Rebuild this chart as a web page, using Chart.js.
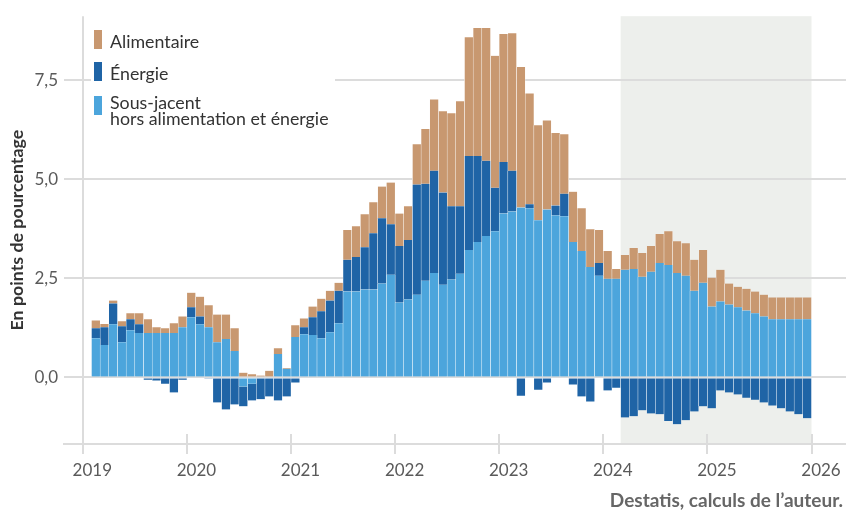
<!DOCTYPE html>
<html lang="fr">
<head>
<meta charset="utf-8">
<title>Inflation – contributions</title>
<script src="https://cdn.jsdelivr.net/npm/chart.js@4.4.1/dist/chart.umd.min.js"></script>
<style>
  html,body{margin:0;padding:0;background:#fff;}
  #wrap{width:846px;height:511px;}
</style>
</head>
<body>
<div id="wrap"><canvas id="chart" width="846" height="511"></canvas></div>
<script>
/* ======== DATA (février 2019 – décembre 2025, mensuel) ======== */
const START_YEAR = 2019, START_MONTH = 2;

const underlying = [
  0.99, 0.82, 1.34, 0.89, 1.19, 1.12, 1.12, 1.12, 1.12, 1.12, 1.27,           // 2019
  1.52, 1.34, 1.27, 0.89, 0.97, 0.67, -0.23, -0.16, 0, 0, 0.59, 0.22,         // 2020
  1.02, 1.09, 1.07, 0.99, 1.14, 1.37, 2.17, 2.17, 2.22, 2.22, 2.37, 2.59,     // 2021
  1.89, 1.97, 2.09, 2.44, 2.64, 2.34, 2.47, 2.62, 3.22, 3.42, 3.57, 3.69,     // 2022
  4.14, 4.19, 4.29, 4.27, 3.97, 4.24, 4.09, 4.07, 3.42, 3.19, 2.79, 2.57,     // 2023
  2.49, 2.49, 2.72, 2.74, 2.54, 2.67, 2.89, 2.84, 2.64, 2.57, 2.19, 2.39,     // 2024
  1.79, 1.92, 1.84, 1.77, 1.69, 1.62, 1.54, 1.47, 1.47, 1.47, 1.47, 1.47      // 2025
];
const energy = [
  0.25, 0.45, 0.53, 0.40, 0.28, 0.22, -0.06, -0.08, -0.16, -0.38, -0.06,
  0.25, 0.20, -0.03, -0.63, -0.81, -0.68, -0.50, -0.42, -0.55, -0.48, -0.58, -0.48,
  -0.13, 0.18, 0.45, 0.68, 0.80, 0.82, 0.80, 0.87, 1.07, 1.42, 1.65, 1.28,
  1.43, 1.50, 2.78, 2.45, 2.58, 2.33, 1.85, 1.70, 2.37, 2.17, 1.90, 1.10,
  1.30, 1.03, -0.46, 0.10, -0.31, -0.13, 0.25, 0.57, -0.18, -0.48, -0.61, 0.32,
  -0.33, -0.26, -1.01, -0.98, -0.83, -0.91, -0.93, -1.10, -1.18, -1.08, -0.86, -0.73,
  -0.78, -0.33, -0.38, -0.43, -0.51, -0.56, -0.63, -0.71, -0.78, -0.86, -0.93, -1.03
];
const food = [
  0.20, 0.08, 0.07, 0.13, 0.15, 0.28, 0.35, 0.15, 0.12, 0.25, 0.27,
  0.37, 0.50, 0.55, 0.70, 0.62, 0.57, 0.12, 0.08, 0.05, 0.17, 0.15, 0.02,
  0.30, 0.22, 0.27, 0.32, 0.25, 0.20, 0.75, 0.78, 0.83, 0.78, 0.80, 1.05,
  0.82, 0.85, 1.02, 1.38, 1.80, 2.05, 2.35, 2.65, 3.00, 3.23, 3.35, 3.33,
  3.23, 3.47, 3.55, 2.80, 2.40, 2.25, 1.83, 1.50, 1.27, 1.08, 0.95, 0.83,
  0.70, 0.25, 0.37, 0.53, 0.60, 0.65, 0.73, 0.85, 0.80, 0.82, 0.78, 0.83,
  0.73, 0.80, 0.53, 0.52, 0.55, 0.55, 0.55, 0.55, 0.55, 0.55, 0.55, 0.55
];

const YEAR_TICKS = [2019, 2020, 2021, 2022, 2023, 2024, 2025, 2026];
const Y_TICKS = [0, 2.5, 5, 7.5];
const FORECAST = [2024 + 2/12, 2026];   // zone grisée (prévision)

const LABELS = ['Sous-jacent', 'Énergie', 'Alimentaire'];
const LEGEND_ORDER = [
  { i: 2, lines: ['Alimentaire'] },
  { i: 1, lines: ['Énergie'] },
  { i: 0, lines: ['Sous-jacent', 'hors alimentation et énergie'] }
];
const SOURCE = 'Destatis, calculs de l\u2019auteur.';

/* ======== STYLE ======== */
const COLORS = ['#4CA5DC', '#1F64A6', '#C89870'];
const GRID = '#dcdcdc';
const FONT = 'Lato, "Noto Sans", sans-serif';

// milieu de chaque mois, en années décimales
const monthX = underlying.map((_, i) => START_YEAR + (START_MONTH - 1 + i + 0.5) / 12);
const toPoints = arr => arr.map((v, i) => ({ x: monthX[i], y: v }));

/* ======== PLUGINS ======== */
const forecastBand = {
  id: 'forecastBand',
  beforeDraw(chart){
    const {ctx, chartArea:a, scales:{x}} = chart;
    const x0 = x.getPixelForValue(FORECAST[0]), x1 = x.getPixelForValue(FORECAST[1]);
    ctx.save();
    ctx.fillStyle = '#edefec';
    ctx.fillRect(x0, a.top, x1 - x0, a.bottom - a.top);
    ctx.restore();
  }
};

// petits traits des années au-dessus de l'axe
const yearStubs = {
  id: 'yearStubs',
  afterDraw(chart){
    const {ctx, chartArea:a, scales:{x}} = chart;
    ctx.save();
    ctx.strokeStyle = GRID; ctx.lineWidth = 2;
    YEAR_TICKS.forEach(v=>{
      const px = Math.round(x.getPixelForValue(v));
      ctx.beginPath(); ctx.moveTo(px, a.bottom - 10); ctx.lineTo(px, a.bottom); ctx.stroke();
    });
    ctx.restore();
  }
};

const legendBox = {
  id: 'legendBox',
  afterDraw(chart){
    const ctx = chart.ctx;
    ctx.save();
    ctx.fillStyle = '#fff';
    ctx.fillRect(91, 22, 244, 110);
    ctx.font = '17.8px ' + FONT;
    ctx.textBaseline = 'alphabetic';
    const tops = [30, 62, 96];
    LEGEND_ORDER.forEach((it, k)=>{
      const top = tops[k];
      ctx.fillStyle = chart.data.datasets[it.i].backgroundColor;
      ctx.fillRect(94, top, 8, 19);
      ctx.fillStyle = '#333';
      it.lines.forEach((t, j)=>{
        const base = it.lines.length > 1 ? top + 12.5 + j * 16.5 : top + 18;
        ctx.fillText(t, 110, base);
      });
    });
    ctx.restore();
  }
};

const sourceNote = {
  id: 'sourceNote',
  afterDraw(chart){
    const ctx = chart.ctx;
    ctx.save();
    ctx.font = 'bold 19px ' + FONT;
    ctx.fillStyle = '#666';
    ctx.textAlign = 'right';
    ctx.textBaseline = 'alphabetic';
    ctx.fillText(SOURCE, 843, 507);
    ctx.restore();
  }
};

/* ======== CHART ======== */
Chart.defaults.font.family = FONT;
Chart.defaults.font.size = 17;
Chart.defaults.color = '#5a5a5a';

const ds = (arr, k) => ({
  label: LABELS[k],
  data: toPoints(arr),
  backgroundColor: COLORS[k],
  borderColor: '#fff',
  borderWidth: { left: 0.5, right: 0.5, top: 0, bottom: 0 },
  borderSkipped: false,
  barPercentage: 1,
  categoryPercentage: 1
});

new Chart(document.getElementById('chart'), {
  type: 'bar',
  data: { datasets: [ds(underlying, 0), ds(energy, 1), ds(food, 2)] },
  options: {
    responsive: false,
    animation: false,
    devicePixelRatio: 1,
    layout: { padding: { top: 12, right: 0, left: 0, bottom: 0 } },
    plugins: { legend: { display: false }, tooltip: { enabled: false } },
    scales: {
      x: {
        type: 'linear',
        stacked: true,
        offset: false,
        min: 2018.8194,
        max: 2026.3314,
        afterBuildTicks: s => { s.ticks = YEAR_TICKS.map(v => ({ value: v })); },
        ticks: { autoSkip: false, maxRotation: 0, labelOffset: 9.5, padding: 6, callback: v => String(v) },
        grid: {
          offset: false,
          color: c => (c.tick && c.tick.value === YEAR_TICKS[0]) ? GRID : 'transparent',
          lineWidth: 2, tickColor: GRID, tickLength: 10
        },
        border: { display: true, color: GRID, width: 2 },
        afterFit: s => { s.height = 67; }
      },
      y: {
        stacked: true,
        min: -1.68,
        max: 9.12,
        afterBuildTicks: s => { s.ticks = Y_TICKS.map(v => ({ value: v })); },
        ticks: { padding: 6, callback: v => v.toFixed(1).replace('.', ',') },
        grid: { color: GRID, lineWidth: 2, drawTicks: false },
        border: { display: false },
        title: {
          display: true, text: 'En points de pourcentage', color: '#333',
          font: { weight: 'bold', size: 17.8 }, padding: { top: 7, bottom: 0 }
        },
        afterFit: s => { s.width = 64; }
      }
    }
  },
  plugins: [forecastBand, yearStubs, legendBox, sourceNote]
});
</script>
</body>
</html>
